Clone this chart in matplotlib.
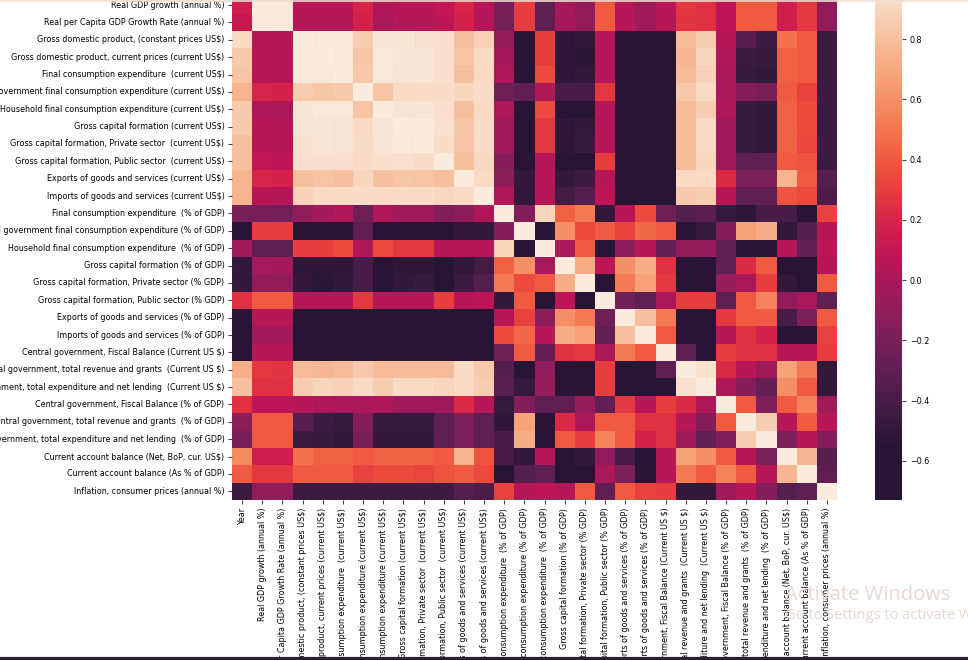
import numpy as np
import pandas as pd
import matplotlib
matplotlib.use("Agg")
import matplotlib.pyplot as plt
from matplotlib.colors import ListedColormap
from matplotlib.lines import Line2D
import seaborn as sns

labels = [
    "Year",
    "Real GDP growth (annual %)",
    "Real per Capita GDP Growth Rate (annual %)",
    "Gross domestic product, (constant prices US$)",
    "Gross domestic product, current prices (current US$)",
    "Final consumption expenditure  (current US$)",
    "General government final consumption expenditure (current US$)",
    "Household final consumption expenditure (current US$)",
    "Gross capital formation (current US$)",
    "Gross capital formation, Private sector  (current US$)",
    "Gross capital formation, Public sector  (current US$)",
    "Exports of goods and services (current US$)",
    "Imports of goods and services (current US$)",
    "Final consumption expenditure  (% of GDP)",
    "General government final consumption expenditure (% of GDP)",
    "Household final consumption expenditure  (% of GDP)",
    "Gross capital formation (% of GDP)",
    "Gross capital formation, Private sector (% GDP)",
    "Gross capital formation, Public sector (% GDP)",
    "Exports of goods and services (% of GDP)",
    "Imports of goods and services (% of GDP)",
    "Central government, Fiscal Balance (Current US $)",
    "Central government, total revenue and grants  (Current US $)",
    "Central government, total expenditure and net lending  (Current US $)",
    "Central government, Fiscal Balance (% of GDP)",
    "Central government, total revenue and grants  (% of GDP)",
    "Central government, total expenditure and net lending  (% of GDP)",
    "Current account balance (Net, BoP, cur. US$)",
    "Current account balance (As % of GDP)",
    "Inflation, consumer prices (annual %)",
]

# lower triangle of the correlation matrix, one list per row
year = [1.0]
gdp_growth = [0.15, 1.0]
gdp_pc_growth = [0.12, 0.99, 1.0]
gdp_const = [0.92, 0.05, 0.04, 1.0]
gdp_cur = [0.85, 0.05, 0.04, 0.98, 1.0]
fce_cur = [0.82, 0.05, 0.04, 0.98, 0.99, 1.0]
ggfce_cur = [0.75, 0.2, 0.18, 0.86, 0.83, 0.84, 1.0]
hfce_cur = [0.85, 0.02, 0.0, 0.97, 0.98, 0.99, 0.82, 1.0]
gcf_cur = [0.85, 0.05, 0.04, 0.97, 0.97, 0.96, 0.92, 0.96, 1.0]
gcf_priv_cur = [0.8, 0.05, 0.04, 0.95, 0.97, 0.96, 0.93, 0.97, 0.99, 1.0]
gcf_pub_cur = [0.8, 0.1, 0.08, 0.94, 0.94, 0.94, 0.93, 0.94, 0.95, 0.93, 1.0]
exp_cur = [0.75, 0.2, 0.18, 0.8, 0.82, 0.8, 0.9, 0.8, 0.83, 0.82, 0.8, 1.0]
imp_cur = [0.75, 0.05, 0.04, 0.88, 0.92, 0.92, 0.93, 0.92, 0.93, 0.93, 0.91, 0.92, 1.0]
fce_gdp = [-0.2, -0.2, -0.22, -0.1, -0.03, 0.02, -0.25, 0.02, -0.05, -0.05, -0.15,
           -0.12, 0.02, 1.0]
ggfce_gdp = [-0.6, 0.3, 0.3, -0.68, -0.7, -0.7, -0.3, -0.7, -0.6, -0.55, -0.55,
             -0.5, -0.5, -0.15, 1.0]
hfce_gdp = [-0.05, -0.3, -0.3, 0.3, 0.3, 0.35, 0.03, 0.35, 0.28, 0.28, 0.05,
            0.05, 0.05, 0.9, -0.7, 1.0]
gcf_gdp = [-0.5, -0.02, -0.03, -0.52, -0.52, -0.52, -0.4, -0.55, -0.52, -0.52, -0.58,
           -0.5, -0.42, 0.43, 0.6, -0.02, 1.0]
gcf_priv_gdp = [-0.5, -0.1, -0.1, -0.5, -0.53, -0.5, -0.4, -0.55, -0.5, -0.47, -0.65,
                -0.45, -0.35, 0.52, 0.35, 0.4, 0.72, 1.0]
gcf_pub_gdp = [0.25, 0.4, 0.4, 0.05, 0.05, 0.05, 0.28, 0.05, 0.05, 0.05, 0.3,
               0.05, 0.08, -0.5, 0.4, -0.65, 0.07, -0.7, 1.0]
exp_gdp = [-0.55, 0.05, 0.05, -0.7, -0.7, -0.7, -0.7, -0.7, -0.7, -0.7, -0.7,
           -0.55, -0.55, 0.05, 0.32, -0.12, 0.6, 0.52, -0.25, 1.0]
imp_gdp = [-0.7, -0.05, -0.05, -0.7, -0.7, -0.7, -0.7, -0.7, -0.7, -0.7, -0.7,
           -0.6, -0.58, 0.35, 0.45, 0.05, 0.72, 0.67, -0.3, 0.8, 1.0]
fiscal_cur = [-0.7, 0.05, 0.05, -0.7, -0.7, -0.7, -0.7, -0.7, -0.7, -0.7, -0.55,
              -0.6, -0.7, -0.25, 0.4, -0.28, 0.25, 0.28, 0.0, 0.52, 0.4, 1.0]
revenue_cur = [0.73, 0.28, 0.27, 0.78, 0.76, 0.78, 0.84, 0.78, 0.78, 0.78, 0.78,
               0.92, 0.84, -0.35, -0.55, -0.1, -0.62, -0.65, 0.3, -0.62, -0.68, -0.3, 1.0]
expend_cur = [0.8, 0.25, 0.25, 0.86, 0.9, 0.88, 0.92, 0.86, 0.92, 0.92, 0.9,
              0.92, 0.86, -0.32, -0.48, -0.08, -0.63, -0.65, 0.3, -0.68, -0.68, -0.68,
              0.95, 1.0]
fiscal_gdp = [0.25, 0.07, 0.07, 0.05, 0.02, 0.0, 0.0, 0.02, -0.05, -0.05, -0.05,
              0.22, 0.05, -0.48, -0.15, -0.3, -0.3, -0.08, -0.3, 0.28, 0.05, 0.3,
              0.22, 0.02, 1.0]
revenue_gdp = [-0.12, 0.4, 0.4, -0.33, -0.45, -0.47, -0.15, -0.47, -0.47, -0.47, -0.3,
               -0.18, -0.3, -0.52, 0.68, -0.68, 0.22, 0.0, 0.4, 0.4, 0.25, 0.25,
               0.05, -0.15, 0.4, 1.0]
expend_gdp = [-0.2, 0.4, 0.4, -0.45, -0.47, -0.5, -0.2, -0.5, -0.5, -0.5, -0.3,
              -0.18, -0.3, -0.4, 0.72, -0.68, 0.4, 0.3, 0.55, 0.4, 0.18, 0.25,
              -0.05, -0.28, -0.17, 0.86, 1.0]
cab_cur = [0.58, 0.15, 0.15, 0.48, 0.42, 0.42, 0.4, 0.42, 0.42, 0.42, 0.4,
           0.75, 0.38, -0.4, -0.5, 0.05, -0.7, -0.5, -0.1, -0.4, -0.62, 0.05,
           0.68, 0.6, 0.4, 0.05, -0.18, 1.0]
cab_gdp = [0.4, 0.28, 0.28, 0.4, 0.4, 0.4, 0.32, 0.35, 0.35, 0.33, 0.38,
           0.4, 0.35, -0.58, -0.35, -0.3, -0.7, -0.65, 0.0, -0.18, -0.6, 0.05,
           0.52, 0.4, 0.55, 0.4, 0.05, 0.76, 1.0]
inflation = [-0.45, -0.1, -0.1, -0.45, -0.45, -0.45, -0.45, -0.45, -0.45, -0.45, -0.45,
             -0.35, -0.38, 0.32, 0.05, 0.07, 0.05, 0.4, -0.3, 0.4, 0.32, 0.3,
             -0.5, -0.5, -0.05, 0.05, -0.15, -0.35, -0.3, 1.0]

rows = [year, gdp_growth, gdp_pc_growth, gdp_const, gdp_cur, fce_cur, ggfce_cur,
        hfce_cur, gcf_cur, gcf_priv_cur, gcf_pub_cur, exp_cur, imp_cur, fce_gdp,
        ggfce_gdp, hfce_gdp, gcf_gdp, gcf_priv_gdp, gcf_pub_gdp, exp_gdp, imp_gdp,
        fiscal_cur, revenue_cur, expend_cur, fiscal_gdp, revenue_gdp, expend_gdp,
        cab_cur, cab_gdp, inflation]

n = len(labels)
corr = np.zeros((n, n))
for i, r in enumerate(rows):
    corr[i, :i + 1] = r
    corr[:i + 1, i] = r
df = pd.DataFrame(corr, index=labels, columns=labels)

# rocket, but the darkest end held at the dark purple seen in the screenshot
rocket = sns.color_palette("rocket", as_cmap=True)
cols = rocket(np.linspace(0, 1, 256))
target = np.array([42, 24, 48]) / 255
k = int(np.argmin(((cols[:, :3] - target) ** 2).sum(axis=1)))
cols[:k] = cols[k]
cmap = ListedColormap(cols)

fig = plt.figure(figsize=(9.68, 6.6), dpi=100)
# heatmap is cropped at the top like the screenshot (Year row hidden)
ax = fig.add_axes([0.2397, 0.2424, 0.625, 0.7894])
cax = fig.add_axes([0.904, 0.2424, 0.0279, 0.7894])

sns.heatmap(df, ax=ax, cbar_ax=cax, cmap=cmap, vmin=-0.73, vmax=1.0,
            xticklabels=labels, yticklabels=labels)

ax.tick_params(axis="both", labelsize=5.8, length=3, pad=2.5, color="#444444")
ax.set_xticklabels(labels, rotation=90, fontsize=5.8)
ax.set_yticklabels(labels, rotation=0, fontsize=5.8)

cax.set_yticks([-0.6, -0.4, -0.2, 0.0, 0.2, 0.4, 0.6, 0.8])
cax.tick_params(labelsize=5.8, length=3, pad=2.5, color="#444444")

# screenshot bits: watermark and border lines
fig.text(0.811, 0.091, "Activate Windows", fontsize=14.5, color="#e6d8d1",
         family="Open Sans", ha="left", va="baseline")
fig.text(0.811, 0.062, "Go to Settings to activate Windows.", fontsize=10.5,
         color="#e6d8d1", family="Open Sans", ha="left", va="baseline")
fig.add_artist(Line2D([0, 1], [0.9985, 0.9985], color="#efdcd0", lw=1.2,
                      transform=fig.transFigure))
fig.add_artist(Line2D([0, 1], [0.002, 0.002], color="#2a2030", lw=3,
                      transform=fig.transFigure))

fig.savefig("out.png", dpi=100)
